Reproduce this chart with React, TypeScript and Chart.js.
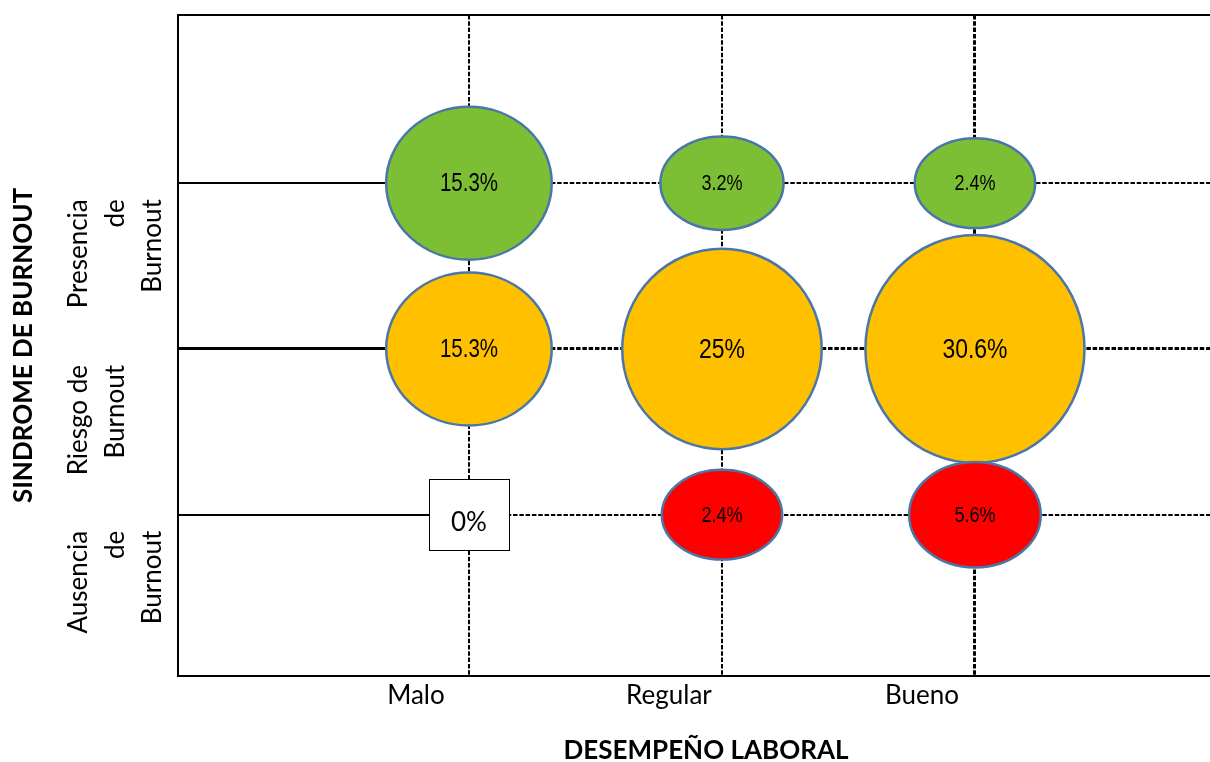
import { useEffect, useRef } from 'react';
import { Chart, registerables } from 'chart.js';

Chart.register(...registerables);

// Categories and series values
const xCategories = ['Malo', 'Regular', 'Bueno'];
const yCategories = [
  ['Ausencia', 'de', 'Burnout'],
  ['Riesgo de', 'Burnout'],
  ['Presencia', 'de', 'Burnout'],
];
const presencia = [15.3, 3.2, 2.4];
const riesgo = [15.3, 25, 30.6];
const ausencia = [0, 2.4, 5.6];
const xTitle = 'DESEMPEÑO LABORAL';
const yTitle = 'SINDROME DE BURNOUT';

const FONT = 'Lato, "Open Sans", sans-serif';
const NARROW = '"Liberation Sans", Arial, sans-serif';
const OUTLINE = '#4a76a8';

// Ellipse half-axes grow with the percentage they represent
const radiusX = (v: number) => 56 + 1.75 * v;
const radiusY = (v: number) => 39 + 2.45 * v;
const labelSize = (v: number) => (v >= 20 ? 28 : v >= 10 ? 25 : 22);
const fmt = (v: number) => `${v}%`;

const toPoints = (values: number[], level: number) =>
  values.map((v, i) => ({ x: i, y: level, r: radiusX(v), v }));

// Snap a line position so strokes of the given width stay crisp
const snap = (p: number, w: number) => (Math.round(w) % 2 === 1 ? Math.floor(p) + 0.5 : Math.round(p));

const burnoutPlugin = {
  id: 'burnoutMatrix',
  beforeDatasetsDraw(chart: any) {
    const { ctx, chartArea: a, scales } = chart;
    const { x, y } = scales;
    const line = (x1: number, y1: number, x2: number, y2: number) => {
      ctx.beginPath();
      ctx.moveTo(x1, y1);
      ctx.lineTo(x2, y2);
      ctx.stroke();
    };
    ctx.save();
    ctx.strokeStyle = '#000';
    const dash = [4.5, 1.8];
    const vWidths = [2, 2, 3];
    xCategories.forEach((_, i) => {
      const w = vWidths[i];
      const px = snap(x.getPixelForValue(i), w);
      ctx.lineWidth = w;
      ctx.setLineDash(dash);
      line(px, a.top, px, a.bottom);
    });
    const hWidths = [2, 3, 2];
    const split = x.getPixelForValue(0);
    yCategories.forEach((_, j) => {
      const w = hWidths[j];
      const py = snap(y.getPixelForValue(j), w);
      ctx.lineWidth = w;
      ctx.setLineDash([]);
      line(a.left, py, split, py);
      ctx.setLineDash(dash);
      line(split, py, a.right, py);
    });
    ctx.setLineDash([]);
    ctx.lineWidth = 2;
    const l = Math.round(a.left);
    const t = Math.round(a.top);
    const b = Math.round(a.bottom);
    ctx.beginPath();
    ctx.moveTo(a.right, t);
    ctx.lineTo(l, t);
    ctx.lineTo(l, b);
    ctx.lineTo(a.right, b);
    ctx.stroke();
    ctx.restore();
  },
  afterDatasetsDraw(chart: any) {
    const { ctx } = chart;
    const drawOrder = [1, 2, 0];
    ctx.save();
    drawOrder.forEach((d) => {
      const ds = chart.data.datasets[d];
      const meta = chart.getDatasetMeta(d);
      meta.data.forEach((el: any, i: number) => {
        const v = ds.data[i].v;
        const cx = el.x;
        const cy = el.y;
        if (v === 0) {
          const w = 80;
          const h = 71;
          ctx.fillStyle = '#fff';
          ctx.strokeStyle = '#000';
          ctx.lineWidth = 1;
          ctx.fillRect(cx - w / 2, cy - h / 2, w, h);
          ctx.strokeRect(Math.round(cx - w / 2) + 0.5, Math.round(cy - h / 2) + 0.5, w, h);
          ctx.fillStyle = '#000';
          ctx.font = `26px ${FONT}`;
          ctx.textAlign = 'center';
          ctx.textBaseline = 'middle';
          ctx.fillText(fmt(v), cx, cy + 8);
          return;
        }
        ctx.beginPath();
        ctx.ellipse(cx, cy, radiusX(v), radiusY(v), 0, 0, Math.PI * 2);
        ctx.fillStyle = ds.fillColor;
        ctx.fill();
        ctx.strokeStyle = OUTLINE;
        ctx.lineWidth = 2.5;
        ctx.stroke();

        ctx.save();
        ctx.translate(cx, cy);
        ctx.scale(0.82, 1);
        ctx.fillStyle = '#000';
        ctx.font = `${labelSize(v)}px ${NARROW}`;
        ctx.textAlign = 'center';
        ctx.textBaseline = 'middle';
        ctx.fillText(fmt(v), 0, 1);
        ctx.restore();
      });
    });
    ctx.restore();
  },
  afterDraw(chart: any) {
    const { ctx, chartArea: a, scales } = chart;
    const { y } = scales;
    ctx.save();
    ctx.fillStyle = '#000';
    // Rotated category labels on the vertical axis
    ctx.font = `26px ${FONT}`;
    ctx.textAlign = 'right';
    ctx.textBaseline = 'middle';
    yCategories.forEach((lines, j) => {
      const top = y.getPixelForValue(j) + 16;
      lines.forEach((txt, k) => {
        ctx.save();
        ctx.translate(79 + k * 37, top);
        ctx.rotate(-Math.PI / 2);
        ctx.fillText(txt, 0, 0);
        ctx.restore();
      });
    });
    // Axis titles
    ctx.font = `bold 26px ${FONT}`;
    ctx.textAlign = 'center';
    ctx.textBaseline = 'middle';
    ctx.fillText(xTitle, 706, 751);
    ctx.save();
    ctx.translate(24, (a.top + a.bottom) / 2);
    ctx.rotate(-Math.PI / 2);
    ctx.fillText(yTitle, 0, 0);
    ctx.restore();
    ctx.restore();
  },
};

export default function App() {
  const canvasRef = useRef<HTMLCanvasElement | null>(null);

  useEffect(() => {
    if (!canvasRef.current) return;
    const hidden = 'rgba(0,0,0,0)';
    const chart = new Chart(canvasRef.current, {
      type: 'bubble',
      data: {
        datasets: [
          { label: 'Ausencia de Burnout', data: toPoints(ausencia, 0), fillColor: '#FF0000', backgroundColor: hidden, borderWidth: 0 } as any,
          { label: 'Riesgo de Burnout', data: toPoints(riesgo, 1), fillColor: '#FFC000', backgroundColor: hidden, borderWidth: 0 } as any,
          { label: 'Presencia de Burnout', data: toPoints(presencia, 2), fillColor: '#7CBF35', backgroundColor: hidden, borderWidth: 0 } as any,
        ],
      },
      options: {
        responsive: false,
        animation: false,
        layout: { autoPadding: false, padding: { top: 15, right: 0, left: 0, bottom: 0 } },
        plugins: { legend: { display: false }, tooltip: { enabled: false } },
        scales: {
          x: {
            type: 'linear',
            min: -1.15,
            max: 2.929,
            grid: { display: false },
            border: { display: false },
            afterBuildTicks: (s: any) => {
              s.ticks = xCategories.map((_, i) => ({ value: i }));
            },
            afterFit: (s: any) => {
              s.height = 86;
            },
            ticks: {
              autoSkip: false,
              maxRotation: 0,
              labelOffset: -53,
              padding: -4,
              color: '#000',
              font: { family: FONT, size: 26 },
              callback: (v: any) => xCategories[v] ?? '',
            },
          },
          y: {
            type: 'linear',
            min: -0.973,
            max: 3.015,
            grid: { display: false },
            border: { display: false },
            ticks: { display: false },
            afterFit: (s: any) => {
              s.width = 178;
            },
          },
        },
      } as any,
      plugins: [burnoutPlugin],
    });
    return () => chart.destroy();
  }, []);

  return (
    <div style={{ position: 'absolute', left: 0, top: 0, width: 1210, height: 762, background: '#fff' }}>
      <canvas ref={canvasRef} width={1210} height={762} style={{ display: 'block' }} />
    </div>
  );
}
